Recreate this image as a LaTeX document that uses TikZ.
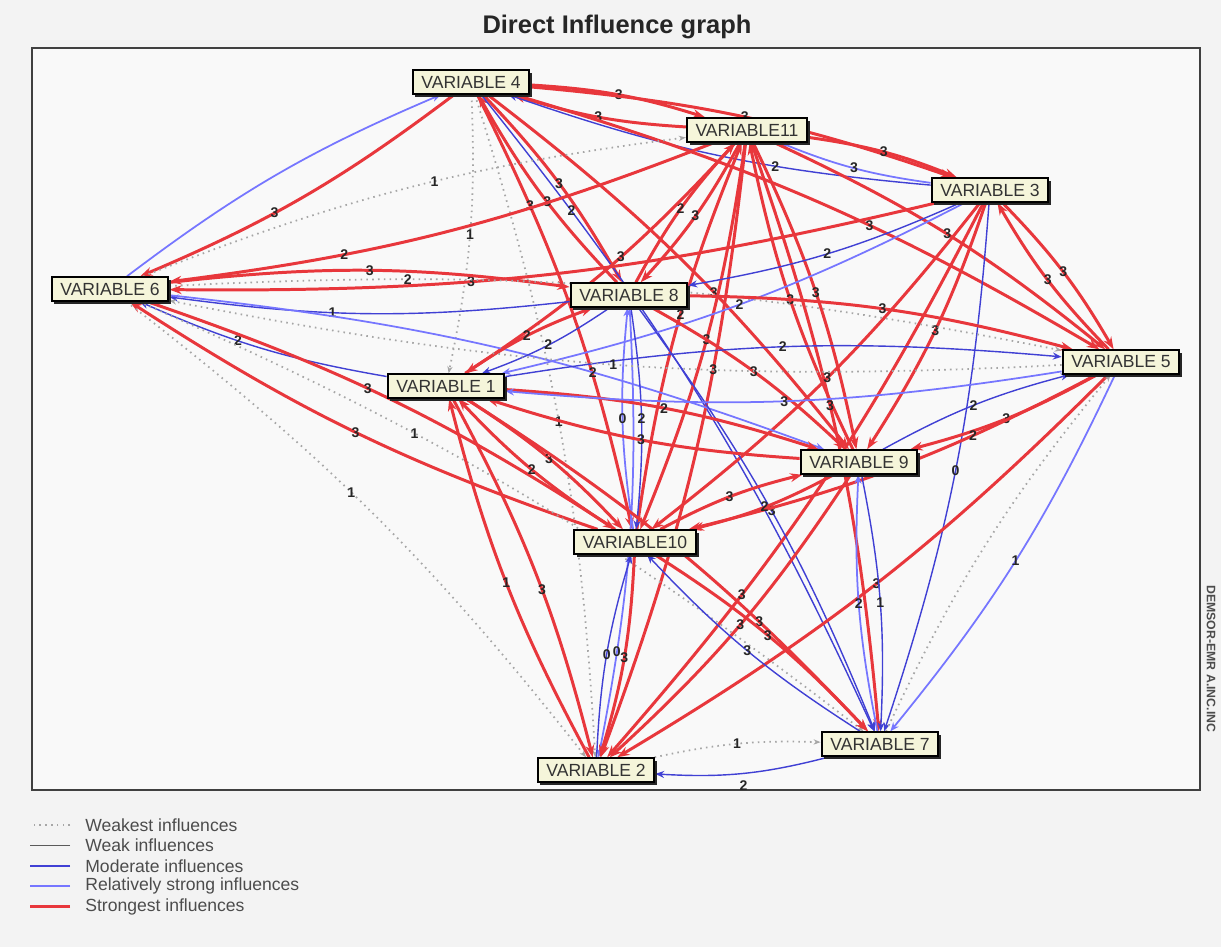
\documentclass[tikz,border=0pt]{standalone}
\definecolor{DRed}{HTML}{E8373C}
\definecolor{DBlue}{HTML}{4040D4}
\definecolor{DBlueLight}{HTML}{7676FF}
\definecolor{DGrey}{HTML}{A6A6A6}
\definecolor{DDark}{HTML}{5A5A5A}
\definecolor{DCream}{HTML}{F5F5DA}
\definecolor{DPaper}{HTML}{F3F3F3}
\definecolor{DPane}{HTML}{F9F9F9}
\usepackage{fontspec}
\setmainfont{Liberation Sans}
\usepackage{tikz}
\usetikzlibrary{arrows.meta,backgrounds,shadows}

\tikzset{
    varbox/.style={rectangle,draw=black,line width=1.1pt,fill=DCream,
          inner xsep=5pt,inner ysep=0pt,minimum height=0.47cm,
          font=\fontsize{10}{11}\selectfont,text=black!80,
          drop shadow={shadow xshift=1.6pt,shadow yshift=-1.6pt,fill=black!85,opacity=1}},
    weakest/.style={DGrey,line width=1pt,dash pattern=on 0.9pt off 2.4pt,
          -{Stealth[length=4pt,width=3pt]}},
    weak/.style={DDark,line width=0.8pt,-{Stealth[length=4pt,width=3pt]}},
    moderate/.style={DBlue,line width=0.8pt,-{Stealth[length=5pt,width=4pt]}},
    strongrel/.style={DBlueLight,line width=1pt,-{Stealth[length=5pt,width=4pt]}},
    strongest/.style={DRed,line width=1.7pt,-{Stealth[length=7pt,width=5pt]}},
    elbl/.style={font=\fontsize{8}{9}\selectfont\bfseries,text=black!85,inner sep=1pt},
    legtxt/.style={anchor=west,font=\fontsize{10}{11}\selectfont,text=black!70,inner sep=0pt},
}

\begin{document}
\begin{tikzpicture}[x=0.02cm,y=-0.02cm]
    \useasboundingbox (0,0) rectangle (1221,947);

    \node[font=\fontsize{14.5}{16}\selectfont\bfseries,text=black!85] (title) at (617,27)
          {Direct Influence graph};
    \node[rotate=-90,anchor=west,font=\fontsize{7}{8}\selectfont\bfseries,text=black!70,
          inner sep=0pt] (mark) at (1211,585) {DEMSOR-EMR A.INC.INC};

    \node[varbox] (v4)  at (471,82)  {VARIABLE 4};
    \node[varbox] (v11) at (747,130) {VARIABLE11};
    \node[varbox] (v3)  at (990,190) {VARIABLE 3};
    \node[varbox] (v6)  at (110,289) {VARIABLE 6};
    \node[varbox] (v8)  at (629,295) {VARIABLE 8};
    \node[varbox] (v5)  at (1121,362) {VARIABLE 5};
    \node[varbox] (v1)  at (446,386) {VARIABLE 1};
    \node[varbox] (v9)  at (859,462) {VARIABLE 9};
    \node[varbox] (v10) at (635,542) {VARIABLE10};
    \node[varbox] (v7)  at (880,744) {VARIABLE 7};
    \node[varbox] (v2)  at (596,770) {VARIABLE 2};

    \begin{scope}[on background layer]
        \fill[DPaper] (0,0) rectangle (1221,947);
        \draw[line width=1.2pt,draw=black!75,fill=DPane] (32,48) rectangle (1200,790);
        \foreach \a/\b/\s/\l/\p in {
            v4/v6/strongest/3/.6, v6/v4/strongrel//.5, v4/v11/strongest/3/.5,
            v11/v4/strongest/3/.5, v3/v4/moderate/2/.35, v4/v3/strongest/3/.5,
            v4/v8/strongest/3/.5, v8/v4/strongest/3/.45, v4/v1/weakest/1/.5,
            v4/v10/strongest/3/.25, v4/v9/strongest/3/.6, v4/v5/strongest/3/.6,
            v4/v2/weakest/1/.5, v4/v7/moderate/2/.18,
            v11/v3/strongest/3/.5, v3/v11/strongrel/3/.5, v11/v6/strongest/2/.7,
            v11/v8/strongest/3/.5, v8/v11/strongest/2/.5, v11/v1/strongest/3/.45,
            v11/v10/strongest/3/.5, v10/v11/strongest/2/.55, v11/v9/strongest/3/.5,
            v9/v11/strongest/3/.5, v11/v2/strongest/3/.35, v11/v7/strongest/3/.45,
            v11/v5/strongest/3/.5, v6/v11/weakest/1/.55,
            v3/v5/strongest/3/.5, v5/v3/strongest/3/.5, v3/v8/moderate/2/.5,
            v3/v1/strongrel/2/.5, v3/v9/strongest/3/.5, v3/v10/strongest/3/.5,
            v3/v2/strongest/3/.7, v3/v7/moderate/0/.5, v3/v6/strongest/3/.62,
            v6/v8/strongest/3/.5, v8/v6/moderate/1/.6, v6/v5/weakest/2/.25,
            v1/v6/moderate/2/.6, v6/v10/strongest/3/.45, v10/v6/strongest/3/.5,
            v6/v9/strongrel/2/.65, v6/v2/weakest/1/.45, v6/v7/weakest/1/.35,
            v8/v5/strongest/3/.5, v8/v9/strongest/3/.5, v8/v10/moderate/2/.5,
            v10/v8/strongrel/0/.5, v8/v1/moderate/2/.5, v1/v8/strongest/2/.5,
            v8/v2/strongrel/0/.78, v8/v7/moderate/3/.5,
            v1/v5/moderate/2/.5, v1/v9/strongest/2/.5, v1/v10/strongest/3/.5,
            v10/v1/strongest/2/.5, v1/v2/strongest/3/.55, v1/v7/strongest/3/.72,
            v2/v1/strongest/1/.5,
            v5/v9/strongest/3/.5, v9/v5/moderate/2/.5, v5/v10/strongest/2/.3,
            v5/v2/strongest/3/.5, v5/v7/strongrel/1/.5, v5/v1/strongrel/3/.5,
            v5/v6/weakest/1/.5, v7/v5/weakest//.5,
            v9/v10/strongest/2/.5, v10/v9/strongest/3/.5, v9/v2/strongest/3/.5,
            v9/v7/moderate/1/.5, v7/v9/strongrel/2/.5, v9/v1/strongest/3/.5,
            v10/v2/strongest/3/.5, v2/v10/moderate/0/.5, v10/v7/strongest/3/.5,
            v7/v10/moderate/3/.5, v2/v7/weakest/1/.5}
            \draw[\s] (\a) to[bend left=7] node[elbl,pos=\p] {\l} (\b);
        \draw[moderate] (v7) to[bend left=9] node[elbl,below=3pt] {2} (v2);
    \end{scope}

    \foreach \n/\s/\t [count=\i] in {lw/weakest/Weakest influences,
            lk/weak/Weak influences, lm/moderate/Moderate influences,
            lr/strongrel/Relatively strong influences, ls/strongest/Strongest influences}{
        \node[legtxt] (\n) at (85,805+20.3*\i) {\t};
        \draw[\s,-] ([shift={(-15,0)}]\n.west) -- ++(-40,0);
    }
\end{tikzpicture}
\end{document}
